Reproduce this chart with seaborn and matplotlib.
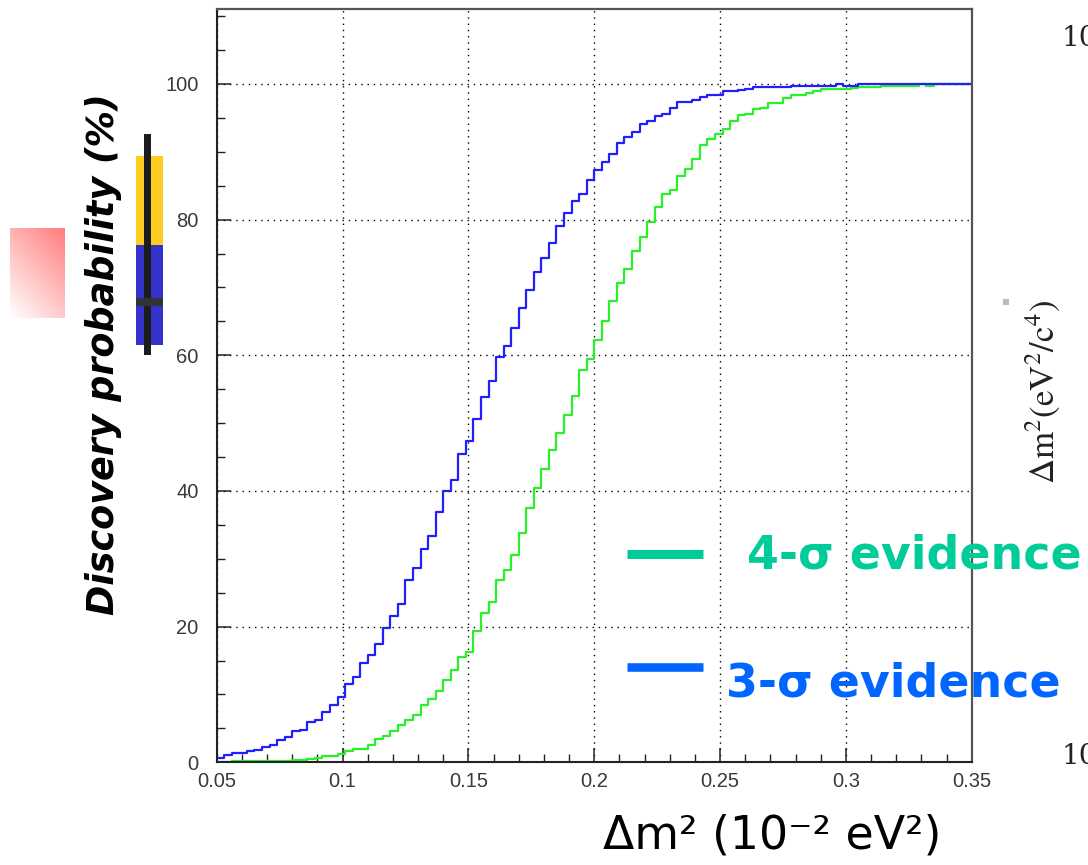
import numpy as np
import pandas as pd
import matplotlib
matplotlib.use("Agg")
import matplotlib.pyplot as plt
import seaborn as sns
from matplotlib.patches import Rectangle
from matplotlib.lines import Line2D
from matplotlib.ticker import MultipleLocator

# ---------------- data ----------------
bin_low, bin_high, n_bins = 0.05, 0.35, 100

prob_3sigma = [
    0.6, 1.1, 1.4, 1.4, 1.6, 1.8, 2.2, 2.6, 3.3, 3.7,
    4.6, 4.8, 6.0, 6.2, 7.4, 8.5, 9.6, 11.6, 12.6, 14.6,
    15.8, 17.4, 19.8, 21.6, 23.4, 26.8, 28.7, 31.5, 33.3, 36.9,
    40.0, 41.6, 45.4, 47.3, 50.6, 53.8, 56.2, 59.7, 61.3, 64.0,
    67.0, 69.6, 72.3, 74.3, 76.5, 79.1, 80.9, 82.8, 83.7, 85.8,
    87.3, 88.5, 89.7, 91.3, 92.2, 92.9, 94.1, 94.5, 95.2, 95.6,
    96.4, 97.3, 97.3, 97.7, 98.1, 98.4, 98.4, 98.9, 98.9, 99.1,
    99.3, 99.5, 99.5, 99.5, 99.5, 99.5, 99.7, 99.7, 99.7, 99.7,
    99.7, 99.7, 100.0, 99.7, 99.7, 100.0, 100.0, 100.0, 100.0, 100.0,
    100.0, 100.0, 100.0, 100.0, 100.0, 100.0, 100.0, 100.0, 100.0, 100.0,
]

prob_4sigma = [
    0.0, 0.0, 0.15, 0.15, 0.15, 0.15, 0.15, 0.15, 0.15, 0.15,
    0.35, 0.35, 0.5, 0.6, 0.9, 0.9, 1.2, 1.6, 2.0, 2.0,
    2.5, 3.4, 3.9, 4.6, 5.5, 6.2, 7.0, 8.5, 9.4, 10.5,
    12.2, 13.6, 15.5, 16.3, 19.4, 22.0, 23.6, 26.8, 28.4, 30.6,
    33.8, 37.5, 40.4, 43.3, 46.1, 48.6, 51.2, 54.0, 57.9, 59.4,
    62.2, 65.0, 68.0, 70.6, 72.7, 75.3, 77.4, 79.7, 81.9, 83.7,
    84.4, 86.5, 87.4, 89.0, 91.0, 91.9, 92.6, 93.3, 94.5, 95.4,
    95.6, 96.3, 96.5, 97.2, 97.2, 97.9, 98.4, 98.4, 98.7, 99.0,
    99.2, 99.2, 99.2, 99.3, 99.4, 99.5, 99.6, 99.6, 99.7, 99.7,
    99.7, 99.7, 99.7, 100.0, 99.7, 100.0, 100.0, 100.0, 100.0, 100.0,
]

x_ticks = [0.05, 0.1, 0.15, 0.2, 0.25, 0.3, 0.35]
x_tick_labels = ["0.05", "0.1", "0.15", "0.2", "0.25", "0.3", "0.35"]
y_ticks = [0, 20, 40, 60, 80, 100]
y_tick_labels = ["0", "20", "40", "60", "80", "100"]

legend_4sigma = "4-σ evidence"
legend_3sigma = "3-σ evidence"
y_title = "Discovery probability (%)"
x_title = "Δm² (10⁻² eV²)"

# ---------------- figure ----------------
W, H = 1088, 865
sns.set_theme(style="white")
plt.rcParams["font.family"] = ["DejaVu Sans"]
plt.rcParams["mathtext.fontset"] = "stix"

fig = plt.figure(figsize=(W / 100, H / 100), dpi=100)
fig.patch.set_facecolor("white")

def fx(x):
    return x / W

def fy(y):
    return 1 - y / H

ax_l, ax_r, ax_t, ax_b = 216.7, 971.7, 9.3, 762.3
ax = fig.add_axes([fx(ax_l), fy(ax_b), (ax_r - ax_l) / W, (ax_b - ax_t) / H])
ax.set_facecolor("white")

edges = np.linspace(bin_low, bin_high, n_bins + 1)
centers = 0.5 * (edges[:-1] + edges[1:])
df4 = pd.DataFrame({"dm2": centers, "prob": prob_4sigma})
df3 = pd.DataFrame({"dm2": centers, "prob": prob_3sigma})

sns.histplot(data=df4, x="dm2", weights="prob", bins=n_bins,
             binrange=(bin_low, bin_high), element="step",
             fill=False, color="#2af02a", linewidth=1.6, ax=ax)
sns.histplot(data=df3, x="dm2", weights="prob", bins=n_bins,
             binrange=(bin_low, bin_high), element="step",
             fill=False, color="#2020ff", linewidth=1.6, ax=ax)

ax.set_xlim(bin_low, bin_high)
ax.set_ylim(0, 111)
ax.set_xlabel("")
ax.set_ylabel("")

ax.set_xticks(x_ticks)
ax.set_xticklabels(x_tick_labels)
ax.set_yticks(y_ticks)
ax.set_yticklabels(y_tick_labels)
ax.xaxis.set_minor_locator(MultipleLocator(0.01))
ax.yaxis.set_minor_locator(MultipleLocator(5))

ax.tick_params(which="both", direction="in", top=False, right=False,
               bottom=True, left=True, colors="#222222")
ax.tick_params(which="major", length=10, width=1.1)
ax.tick_params(which="minor", length=6, width=1.0)
ax.tick_params(axis="x", which="major", pad=7, labelsize=14.5, labelcolor="#3a3a3a")
ax.tick_params(axis="y", which="major", pad=13, labelsize=14.5, labelcolor="#3a3a3a")
for lab in ax.get_xticklabels() + ax.get_yticklabels():
    lab.set_family("Liberation Sans")

ax.grid(True, which="major", color="black", linestyle=(0, (1, 3.5)), linewidth=1.0)

for side in ["left", "bottom"]:
    ax.spines[side].set_color("#222222")
    ax.spines[side].set_linewidth(1.5)
for side in ["top", "right"]:
    ax.spines[side].set_color("#555555")
    ax.spines[side].set_linewidth(1.6)
    ax.spines[side].set_visible(True)

# ---------------- titles ----------------
fig.text(fx(104), fy(354), y_title, rotation=90, fontsize=26.3, fontweight="bold",
         fontstyle="italic", ha="center", va="center", color="black")
fig.text(fx(772), fy(836), x_title, fontsize=33, ha="center", va="center", color="black")

# ---------------- legend ----------------
fig.add_artist(Line2D([fx(627), fx(703)], [fy(554), fy(554)], lw=6.5,
                      color="#00cc99", solid_capstyle="butt", transform=fig.transFigure))
fig.add_artist(Line2D([fx(627), fx(703)], [fy(667), fy(667)], lw=6.2,
                      color="#0066ff", solid_capstyle="butt", transform=fig.transFigure))
fig.text(fx(747), fy(556), legend_4sigma, fontsize=33, fontweight="bold",
         color="#00cc99", ha="left", va="center")
fig.text(fx(726), fy(684), legend_3sigma, fontsize=33, fontweight="bold",
         color="#0066ff", ha="left", va="center")

# ---------------- decorations (slide elements) ----------------
def frect(x0, y0, x1, y1, color):
    fig.add_artist(Rectangle((fx(x0), fy(y1)), (x1 - x0) / W, (y1 - y0) / H,
                             transform=fig.transFigure, facecolor=color,
                             edgecolor="none", linewidth=0))

frect(136, 156, 163, 245, "#ffcc22")
frect(136, 245, 163, 345, "#3333cc")
frect(144, 134, 151, 355, "#1c1c1c")
frect(136, 298, 163, 306, "#333333")
frect(1003, 299, 1009, 305, "#bbbbbb")

# pink gradient square
gax = fig.add_axes([fx(10), fy(318), 55 / W, 90 / H])
rr, cc = np.mgrid[0:1:90j, 0:1:55j]
alpha = np.clip(0.85 * (0.4 * cc + 0.6 * (1 - rr)), 0, 1)
img = np.zeros((90, 55, 4))
img[..., 0] = 1.0
img[..., 1] = 0.4
img[..., 2] = 0.4
img[..., 3] = alpha
gax.imshow(img, aspect="auto", interpolation="bilinear")
gax.set_axis_off()

# neighbouring-slide fragments on the right edge
fig.text(fx(1062), fy(38), "10", fontsize=20, family="DejaVu Serif",
         ha="left", va="center", color="#222222")
fig.text(fx(1062), fy(757), "10", fontsize=20, family="DejaVu Serif",
         ha="left", va="center", color="#222222")
fig.text(fx(1043), fy(392), r"$\Delta\mathrm{m}^{2}(\mathrm{eV}^{2}/\mathrm{c}^{4})$",
         rotation=90, fontsize=25, ha="center", va="center", color="#222222")

fig.savefig("out.png", dpi=100, facecolor="white")
